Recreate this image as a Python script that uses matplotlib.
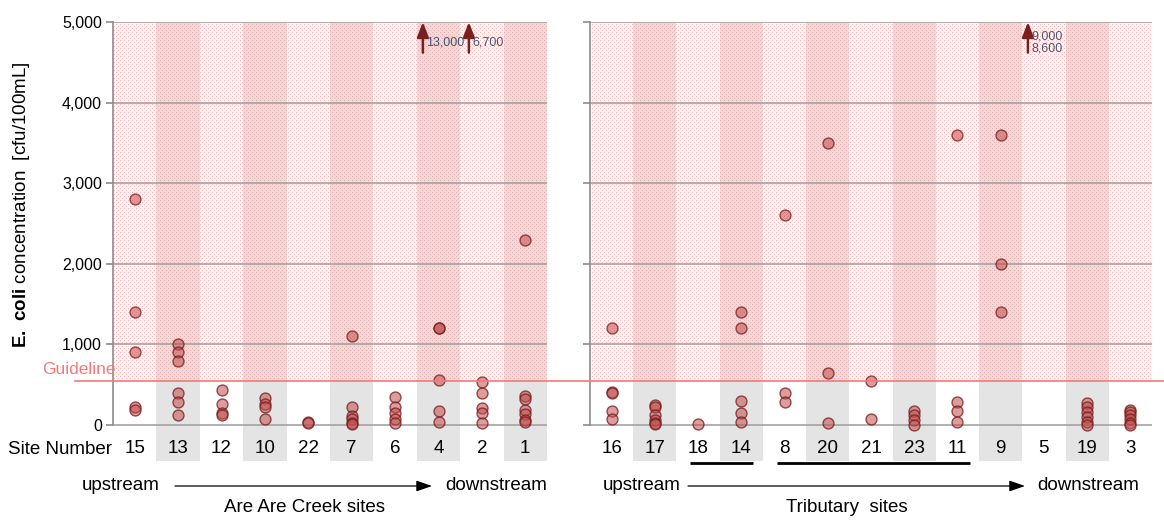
import numpy as np
import matplotlib
matplotlib.use("Agg")
import matplotlib.pyplot as plt

plt.rcParams["font.family"] = ["Liberation Sans", "DejaVu Sans"]
plt.rcParams["mathtext.fontset"] = "custom"
plt.rcParams["mathtext.rm"] = "Liberation Sans"
plt.rcParams["mathtext.bf"] = "Liberation Sans:bold"

# ---- data -------------------------------------------------------------
creek_sites = ["15", "13", "12", "10", "22", "7", "6", "4", "2", "1"]
creek_ecoli = [
    [2800, 1400, 900, 220, 190],
    [1000, 900, 800, 400, 290, 130],
    [430, 260, 150, 130],
    [340, 260, 230, 80],
    [40, 20],
    [1100, 220, 110, 70, 30, 10],
    [350, 220, 150, 70, 20],
    [13000, 1200, 1200, 560, 170, 40],
    [6700, 540, 400, 210, 150, 30],
    [2300, 360, 320, 190, 140, 60, 40],
]

trib_sites = ["16", "17", "18", "14", "8", "20", "21", "23", "11", "9", "5", "19", "3"]
trib_ecoli = [
    [1200, 410, 400, 170, 70],
    [250, 220, 120, 60, 30, 10],
    [10],
    [1400, 1200, 300, 150, 40],
    [2600, 400, 290],
    [3500, 640, 30],
    [550, 70],
    [180, 120, 60, 0],
    [3600, 290, 170, 40],
    [9000, 8600, 3600, 2000, 1400],
    [],
    [270, 230, 160, 100, 40, 0],
    [190, 160, 120, 80, 30, 0],
]

trib_groups = [["18", "14"], ["8", "20", "21", "23", "11"]]

guideline = 550
y_max = 5000
y_ticks = [0, 1000, 2000, 3000, 4000, 5000]

# ---- layout -----------------------------------------------------------
W, H = 1164, 521
Y_BOTTOM = -446
# horizontal offset (in columns) of the off-scale arrow for a site
arrow_offset = {"4": -0.36, "2": -0.30, "9": 0.63}

stripe_color = "#e4e4e4"
grid_color = "#a3a3a3"
guide_color = "#f47a7a"
tint_rgba = (255, 120, 120, 14)
dot_rgba = (255, 130, 130, 150)
face = (0.76, 0.30, 0.30, 0.55)
edge = (0.45, 0.10, 0.10, 0.75)
arrow_color = "#7a1f1f"
value_color = "#3a5a78"


def fx(x):
    return x / W


def fy(y):
    return 1 - y / H


fig = plt.figure(figsize=(W / 100, H / 100), dpi=100)
rect_l = [fx(113), fy(461), 434 / W, (461 - 22) / H]
rect_r = [fx(590), fy(461), 562 / W, (461 - 22) / H]

# background layer: alternating grey column bands
panels = []
for rect, sites in ((rect_l, creek_sites), (rect_r, trib_sites)):
    n = len(sites)
    bg = fig.add_axes(rect, zorder=-1)
    bg.set_xlim(-0.5, n - 0.5)
    bg.set_ylim(Y_BOTTOM, y_max)
    for i in range(1, n, 2):
        bg.axvspan(i - 0.5, i + 0.5, color=stripe_color, lw=0)
    bg.axis("off")
    ax = fig.add_axes(rect, zorder=1)
    ax.patch.set_alpha(0)
    ax.set_xlim(-0.5, n - 0.5)
    ax.set_ylim(Y_BOTTOM, y_max)
    panels.append(ax)
ax_l, ax_r = panels

# pixel dot screen (one global grid) over the range above the guideline
rows, cols = np.mgrid[0:H, 0:W]
dots = ((rows % 4 == 0) & (cols % 4 == 0)) | ((rows % 4 == 2) & (cols % 4 == 2))
mask = np.zeros((H, W), dtype=bool)
for ax, sites in ((ax_l, creek_sites), (ax_r, trib_sites)):
    n = len(sites)
    (x0, y0), (x1, y1) = ax.transData.transform([(-0.5, guideline), (n - 0.5, y_max)])
    c0, c1 = int(round(x0)), int(round(x1))
    r0, r1 = int(round(H - y1)), int(round(H - y0))
    mask[r0:r1, c0:c1] = True
screen = np.zeros((H, W, 4), dtype=np.uint8)
screen[mask] = tint_rgba
screen[mask & dots] = dot_rgba
fig.figimage(screen, xo=0, yo=0, origin="upper", zorder=0)


def draw_panel(ax, sites, values, show_labels):
    for t in y_ticks:
        ax.axhline(t, color=grid_color, lw=1.2, zorder=2)

    for i, (site, vals) in enumerate(zip(sites, values)):
        inside = [v for v in vals if v <= y_max]
        above = [v for v in vals if v > y_max]
        ax.scatter([i] * len(inside), inside, s=62, facecolor=face,
                   edgecolor=edge, linewidth=1.0, zorder=5)
        if above:
            xa = i + arrow_offset.get(site, 0.0)
            ax.annotate("", xy=(xa, y_max), xytext=(xa, 4620),
                        arrowprops=dict(arrowstyle="-|>,head_length=0.9,head_width=0.35",
                                        color=arrow_color, lw=1.8,
                                        mutation_scale=10, shrinkA=0, shrinkB=0),
                        annotation_clip=False, zorder=6)
            label = "\n".join(f"{v:,}" for v in above)
            ax.text(xa + 0.08, 4745, label, fontsize=9, color=value_color,
                    ha="left", va="center", linespacing=1.0, zorder=6)
        ax.text(i, -297, site, fontsize=13.5, ha="center", va="center")

    ax.set_xticks([])
    ax.set_yticks(y_ticks)
    if show_labels:
        ax.set_yticklabels([f"{t:,}" for t in y_ticks], fontsize=11.5)
    else:
        ax.set_yticklabels([])
    ax.tick_params(axis="y", length=5, width=1.2, color="#8c8c8c", pad=3)
    for side in ("top", "right", "bottom"):
        ax.spines[side].set_visible(False)
    ax.spines["left"].set_bounds(0, y_max)
    ax.spines["left"].set_color("#8c8c8c")
    ax.spines["left"].set_linewidth(1.2)
    ax.spines["left"].set_zorder(3)


draw_panel(ax_l, creek_sites, creek_ecoli, True)
draw_panel(ax_r, trib_sites, trib_ecoli, False)

# underline groups of tributary sites
for group in trib_groups:
    i0 = trib_sites.index(group[0])
    i1 = trib_sites.index(group[-1])
    ax_r.plot([i0 - 0.18, i1 + 0.28], [-470, -470], color="black", lw=2.0,
              solid_capstyle="butt", clip_on=False, zorder=6)

# guideline across both panels
y_g = ax_l.transData.transform((0, guideline))[1]
y_g = fig.transFigure.inverted().transform((0, y_g))[1]
fig.add_artist(plt.Line2D([fx(75), 1.0], [y_g, y_g], color=guide_color,
                          lw=1.2, transform=fig.transFigure, zorder=4))
fig.text(fx(42), y_g + 4 / H, "Guideline", color=guide_color, fontsize=12.5,
         ha="left", va="bottom")

# axis title
fig.text(fx(22), fy(205), r"$\mathbf{E.\ coli}$ concentration  [cfu/100mL]",
         rotation=90, ha="center", va="center", fontsize=13.5)
fig.text(fx(8), fy(449), "Site Number", fontsize=13.5, ha="left", va="center")


def flow(x_up, x0, x1, x_down, title, x_title):
    fig.text(fx(x_up), fy(486), "upstream", fontsize=13.5, ha="left", va="center")
    fig.text(fx(x_down), fy(486), "downstream", fontsize=13.5, ha="left", va="center")
    ax_l.annotate("", xy=(fx(x1), fy(486)), xycoords="figure fraction",
                  xytext=(fx(x0), fy(486)), textcoords="figure fraction",
                  arrowprops=dict(arrowstyle="-|>,head_length=0.95,head_width=0.33",
                                  color="black", lw=0.9, mutation_scale=10,
                                  shrinkA=0, shrinkB=0),
                  annotation_clip=False)
    fig.text(fx(x_title), fy(507), title, fontsize=13.5, ha="center", va="center")


flow(82, 175, 432, 445, "Are Are Creek sites", 305)
flow(603, 688, 1025, 1037, "Tributary  sites", 847)

fig.savefig("out.png", dpi=100)
